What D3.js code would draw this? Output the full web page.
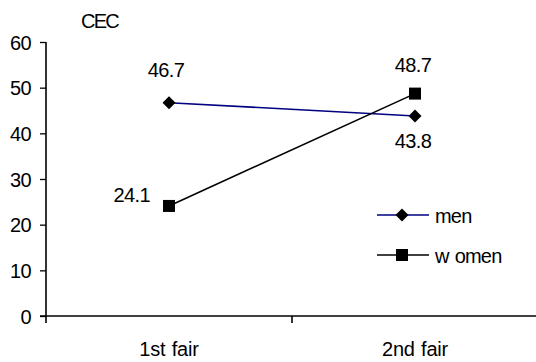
<!DOCTYPE html>
<html><head><meta charset="utf-8">
<script src="https://cdn.jsdelivr.net/npm/d3@7"></script>
<style>body{margin:0;background:#fff}svg{display:block;font-family:"Liberation Sans",Arial,sans-serif}</style>
</head><body><svg id="c" width="536" height="362"></svg>
<script>
const categories = ["1st fair", "2nd fair"];
const men = [46.7, 43.8];
const women = [24.1, 48.7];
const yTicks = [0, 10, 20, 30, 40, 50, 60];
const seriesNames = ["men", "women"];

const FONT = "Liberation Sans, Arial, sans-serif";
const svg = d3.select("#c");
const x = d3.scaleBand().domain(categories).range([46, 538]);
const y = d3.scaleLinear().domain([0, 60]).range([316, 42]);

// y axis
const ya = svg.append("g").attr("transform", "translate(46,0)")
  .call(d3.axisLeft(y).tickValues(yTicks).tickSize(6).tickPadding(9));
ya.select(".domain").attr("stroke", "#000").attr("stroke-width", 1.6).attr("d", `M0,${y(60)}V${y(0)}`);
ya.selectAll(".tick line").attr("stroke", "#000").attr("stroke-width", 1.3);
ya.selectAll("text").attr("font-size", 20).attr("fill", "#000").attr("font-family", FONT).attr("letter-spacing", "-0.6").attr("dy", "0.35em");

// x axis
const xa = svg.append("g").attr("transform", `translate(0,${y(0)})`)
  .call(d3.axisBottom(x).tickSize(0).tickPadding(0));
xa.select(".domain").attr("stroke", "#000").attr("stroke-width", 1.6).attr("d", `M40,0H536`);
xa.selectAll("text").attr("font-size", 20).attr("fill", "#000").attr("font-family", FONT)
  .attr("letter-spacing", "-0.2").attr("word-spacing", "1").attr("dy", 0).attr("y", 40);
// category separator ticks
const seps = [x.range()[0], x.range()[0] + x.bandwidth()];
xa.selectAll(".sep").data(seps).join("line").attr("class", "sep")
  .attr("x1", d => d).attr("x2", d => d).attr("y1", 0).attr("y2", 7).attr("stroke", "#000").attr("stroke-width", 1.6);

svg.append("text").attr("x", 81).attr("y", 28).attr("font-size", 20).attr("letter-spacing", "-1.8").text("CEC");

const cx = d => x(d) + x.bandwidth() / 2;
const line = d3.line().x((d, i) => cx(categories[i])).y(d => y(d));

svg.append("path").datum(men).attr("d", line).attr("fill", "none").attr("stroke", "#000080").attr("stroke-width", 1.6);
svg.append("path").datum(women).attr("d", line).attr("fill", "none").attr("stroke", "#000").attr("stroke-width", 1.6);

function drawDiamond(px, py) {
  svg.append("path").attr("d", "M0,-6.5L6.5,0L0,6.5L-6.5,0Z").attr("transform", `translate(${px},${py})`).attr("fill", "#000");
}
function drawSquare(px, py) {
  svg.append("rect").attr("x", px - 6).attr("y", py - 6).attr("width", 12).attr("height", 12).attr("fill", "#000");
}
men.forEach((v, i) => drawDiamond(cx(categories[i]), y(v)));
women.forEach((v, i) => drawSquare(cx(categories[i]), y(v)));

// data labels
const lab = (t, px, py, anchor) => svg.append("text").attr("x", px).attr("y", py).attr("text-anchor", anchor)
  .attr("font-size", 20).attr("letter-spacing", "-0.6").text(t);
lab(men[0].toFixed(1), cx(categories[0]) - 3, y(men[0]) - 26, "middle");
lab(men[1].toFixed(1), cx(categories[1]) - 2, y(men[1]) + 32, "middle");
lab(women[0].toFixed(1), cx(categories[0]) - 19, y(women[0]) - 4, "end");
lab(women[1].toFixed(1), cx(categories[1]) - 2, y(women[1]) - 22, "middle");

// legend
const lg = [{name: seriesNames[0], color: "#000080", sym: "d", yy: 215}, {name: seriesNames[1], color: "#000", sym: "s", yy: 255}];
lg.forEach(l => {
  svg.append("line").attr("x1", 377).attr("x2", 429).attr("y1", l.yy).attr("y2", l.yy).attr("stroke", l.color).attr("stroke-width", 1.6);
  if (l.sym === "d") drawDiamond(402, l.yy); else drawSquare(402, l.yy);
  const t = svg.append("text").attr("x", 435).attr("y", l.yy + 8).attr("font-size", 20).attr("letter-spacing", "-0.8");
  if (l.name === "women") {
    t.append("tspan").text("w");
    t.append("tspan").attr("dx", 6).text("omen");
  } else t.text(l.name);
});
</script></body></html>
